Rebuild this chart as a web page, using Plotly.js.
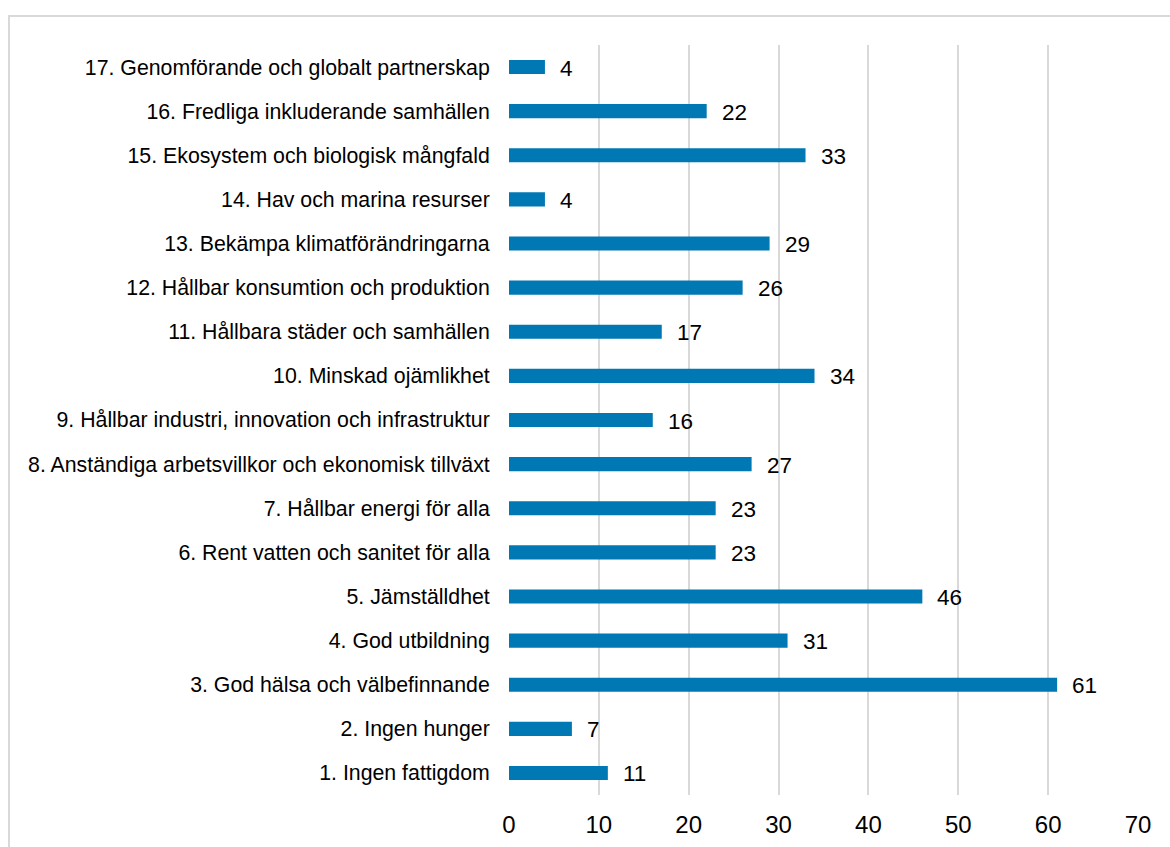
<!DOCTYPE html>
<html>
<head>
<meta charset="utf-8">
<script src="https://cdn.plot.ly/plotly-3.0.1.min.js"></script>
<style>html,body{margin:0;padding:0;background:#fff;}#chart{width:1170px;height:847px;}</style>
</head>
<body>
<div id="chart"></div>
<script>
const categories = [
  "1. Ingen fattigdom",
  "2. Ingen hunger",
  "3. God hälsa och välbefinnande",
  "4. God utbildning",
  "5. Jämställdhet",
  "6. Rent vatten och sanitet för alla",
  "7. Hållbar energi för alla",
  "8. Anständiga arbetsvillkor och ekonomisk tillväxt",
  "9. Hållbar industri, innovation och infrastruktur",
  "10. Minskad ojämlikhet",
  "11. Hållbara städer och samhällen",
  "12. Hållbar konsumtion och produktion",
  "13. Bekämpa klimatförändringarna",
  "14. Hav och marina resurser",
  "15. Ekosystem och biologisk mångfald",
  "16. Fredliga inkluderande samhällen",
  "17. Genomförande och globalt partnerskap"
];
const values = [11, 7, 61, 31, 46, 23, 23, 27, 16, 34, 17, 26, 29, 4, 33, 22, 4];
const xTicks = [0, 10, 20, 30, 40, 50, 60, 70];

const W = 1170, H = 847;
const m = {l: 509, r: 32, t: 45, b: 52};
const pw = W - m.l - m.r, ph = H - m.t - m.b;
const FONT = 'Liberation Sans, Arial, sans-serif';

const trace = {
  type: 'bar',
  orientation: 'h',
  y: categories,
  x: values,
  width: 0.32,
  marker: {color: '#0078b4'},
  hoverinfo: 'none'
};

const annotations = values.map((v, i) => ({
  x: v, y: categories[i], xref: 'x', yref: 'y',
  text: String(v), showarrow: false,
  xanchor: 'left', yanchor: 'middle', xshift: 13, yshift: -1,
  font: {family: FONT, size: 22.5, color: '#000'}
}));

const layout = {
  width: W, height: H,
  margin: m,
  paper_bgcolor: '#fff',
  plot_bgcolor: '#fff',
  showlegend: false,
  font: {family: FONT, color: '#000'},
  xaxis: {
    range: [0, 70],
    tickvals: xTicks,
    ticktext: xTicks.map(String),
    showgrid: true,
    gridcolor: '#d9d9d9',
    gridwidth: 2,
    zeroline: false,
    showline: false,
    ticks: 'outside',
    ticklen: 8,
    tickcolor: 'rgba(0,0,0,0)',
    tickfont: {family: FONT, size: 24, color: '#000'},
    fixedrange: true
  },
  yaxis: {
    type: 'category',
    categoryorder: 'array',
    categoryarray: categories,
    range: [-0.5, 16.5],
    showgrid: false,
    zeroline: false,
    showline: false,
    ticks: 'outside',
    ticklen: 14,
    tickcolor: 'rgba(0,0,0,0)',
    tickfont: {family: FONT, size: 21.3, color: '#000'},
    fixedrange: true
  },
  annotations: annotations,
  shapes: [{
    type: 'rect', xref: 'paper', yref: 'paper',
    x0: (9 - m.l) / pw, x1: (W + 20 - m.l) / pw,
    y0: (m.b + ph - (H + 20)) / ph, y1: (m.t + ph - 16) / ph,
    line: {color: '#d9d9d9', width: 2},
    fillcolor: 'rgba(0,0,0,0)',
    layer: 'below'
  }]
};

Plotly.newPlot('chart', [trace], layout, {displayModeBar: false, staticPlot: true});
</script>
</body>
</html>
